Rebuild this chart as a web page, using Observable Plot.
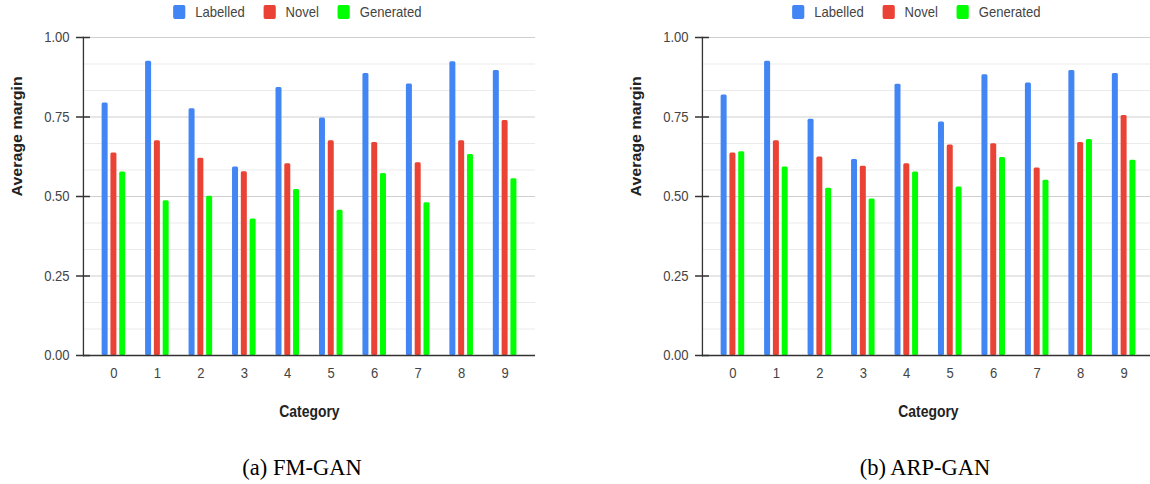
<!DOCTYPE html>
<html>
<head>
<meta charset="utf-8">
<script src="https://cdn.jsdelivr.net/npm/d3@7"></script>
<script src="https://cdn.jsdelivr.net/npm/@observablehq/plot@0.6"></script>
<style>
  html, body { margin: 0; padding: 0; background: #fff; overflow: hidden; width: 1150px; height: 484px; }
  .panel { position: absolute; top: 0; width: 575px; height: 484px; }
  .scaled { position: absolute; left: 0; top: 0; width: 661px; height: 430px; transform: scaleX(0.87); transform-origin: 0 0; }
  .legend { position: absolute; left: 199px; top: 5px; display: flex; align-items: center; font: 15px "Liberation Sans", Arial, sans-serif; color: #444; line-height: 14px; }
  .legend .item { display: flex; align-items: center; margin-right: 21.5px; }
  .legend .sw { width: 14px; height: 14px; border-radius: 2px; margin-right: 11.5px; }
  .plotbox { position: absolute; left: 0; top: 25px; }
  .caption { position: absolute; top: 457px; width: 400px; text-align: center; font: 22.5px "Liberation Serif", "Times New Roman", serif; line-height: 1; color: #000; }
</style>
</head>
<body>
<div id="left" class="panel" style="left:0px"></div>
<div id="right" class="panel" style="left:619px"></div>
<script>
const categories = ["0","1","2","3","4","5","6","7","8","9"];
const series = ["Labelled","Novel","Generated"];
const colors = ["#4285F4","#EA4335","#00FF00"];

const fmLabelled  = [0.794,0.925,0.776,0.593,0.843,0.747,0.887,0.854,0.924,0.896];
const fmNovel     = [0.637,0.675,0.620,0.578,0.603,0.675,0.670,0.606,0.675,0.739];
const fmGenerated = [0.577,0.487,0.501,0.429,0.522,0.457,0.572,0.480,0.632,0.556];

const arpLabelled  = [0.819,0.925,0.743,0.616,0.853,0.734,0.883,0.857,0.896,0.887];
const arpNovel     = [0.637,0.675,0.624,0.595,0.603,0.662,0.666,0.590,0.670,0.755];
const arpGenerated = [0.641,0.593,0.526,0.492,0.577,0.530,0.623,0.551,0.679,0.614];

const yTicks = [0, 0.25, 0.5, 0.75, 1];
const minorGrid = [1/12, 2/12, 4/12, 5/12, 7/12, 8/12, 10/12, 11/12];
const majorGrid = [0.25, 0.5, 0.75, 1];

const captions = ["(a) FM-GAN", "(b) ARP-GAN"];

function makeChart(valueArrays) {
  const W = 661, H = 405;
  const mL = 95.4, mR = 46, mT = 12, mB = 75;
  const pad = 0.4;
  const step = (W - mL - mR) / (categories.length - pad + 2 * pad);
  const bw = (1 - pad) * step;
  const barW = 6.9, gap = 10.1;
  const inset = (bw - barW) / 2;

  const bars = valueArrays.map((vals, i) =>
    Plot.barY(categories.map((c, j) => ({category: c, value: vals[j]})), {
      x: "category", y: "value", fill: colors[i],
      insetLeft: inset, insetRight: inset, dx: (i - 1) * gap, rx: 1.5
    })
  );

  return Plot.plot({
    width: W, height: H,
    marginLeft: mL, marginRight: mR, marginTop: mT, marginBottom: mB,
    style: {fontFamily: '"Liberation Sans", Arial, sans-serif', background: "transparent", overflow: "visible"},
    x: {type: "band", domain: categories, padding: pad, round: false, axis: null},
    y: {domain: [0, 1], axis: null},
    marks: [
      Plot.ruleY(minorGrid, {stroke: "#ebebeb", strokeWidth: 1.2}),
      Plot.ruleY(majorGrid, {stroke: "#cfcfcf", strokeWidth: 1.2}),
      ...bars,
      Plot.ruleY([0], {stroke: "#333", strokeWidth: 1.5}),
      Plot.frame({anchor: "left", stroke: "#333", strokeWidth: 1.5}),
      Plot.axisY(yTicks, {tickSize: 16, dx: 8, tickPadding: 8, tickFormat: d3.format(".2f"),
        fontSize: 15, color: "#444", stroke: "#333", strokeWidth: 1.5, label: null}),
      Plot.axisX(categories, {tickSize: 0, tickPadding: 12, fontSize: 15, color: "#444", label: null}),
      Plot.text(["Average margin"], {frameAnchor: "left", dx: -76, rotate: -90, lineAnchor: "middle",
        fontWeight: "bold", fontSize: 16, fill: "#222"}),
      Plot.text(["Category"], {frameAnchor: "bottom", dy: 56, lineAnchor: "middle",
        fontWeight: "bold", fontSize: 16, fill: "#222"})
    ]
  });
}

function buildPanel(el, valueArrays, caption, captionCenter) {
  const scaled = document.createElement("div");
  scaled.className = "scaled";
  const legend = document.createElement("div");
  legend.className = "legend";
  series.forEach((s, i) => {
    const item = document.createElement("div");
    item.className = "item";
    const sw = document.createElement("div");
    sw.className = "sw";
    sw.style.background = colors[i];
    const t = document.createElement("span");
    t.textContent = s;
    item.appendChild(sw); item.appendChild(t);
    legend.appendChild(item);
  });
  scaled.appendChild(legend);
  const box = document.createElement("div");
  box.className = "plotbox";
  box.appendChild(makeChart(valueArrays));
  scaled.appendChild(box);
  el.appendChild(scaled);
  const cap = document.createElement("div");
  cap.className = "caption";
  cap.style.left = (captionCenter - 200) + "px";
  cap.textContent = caption;
  el.appendChild(cap);
}

buildPanel(document.getElementById("left"), [fmLabelled, fmNovel, fmGenerated], captions[0], 302);
buildPanel(document.getElementById("right"), [arpLabelled, arpNovel, arpGenerated], captions[1], 306);
</script>
</body>
</html>
